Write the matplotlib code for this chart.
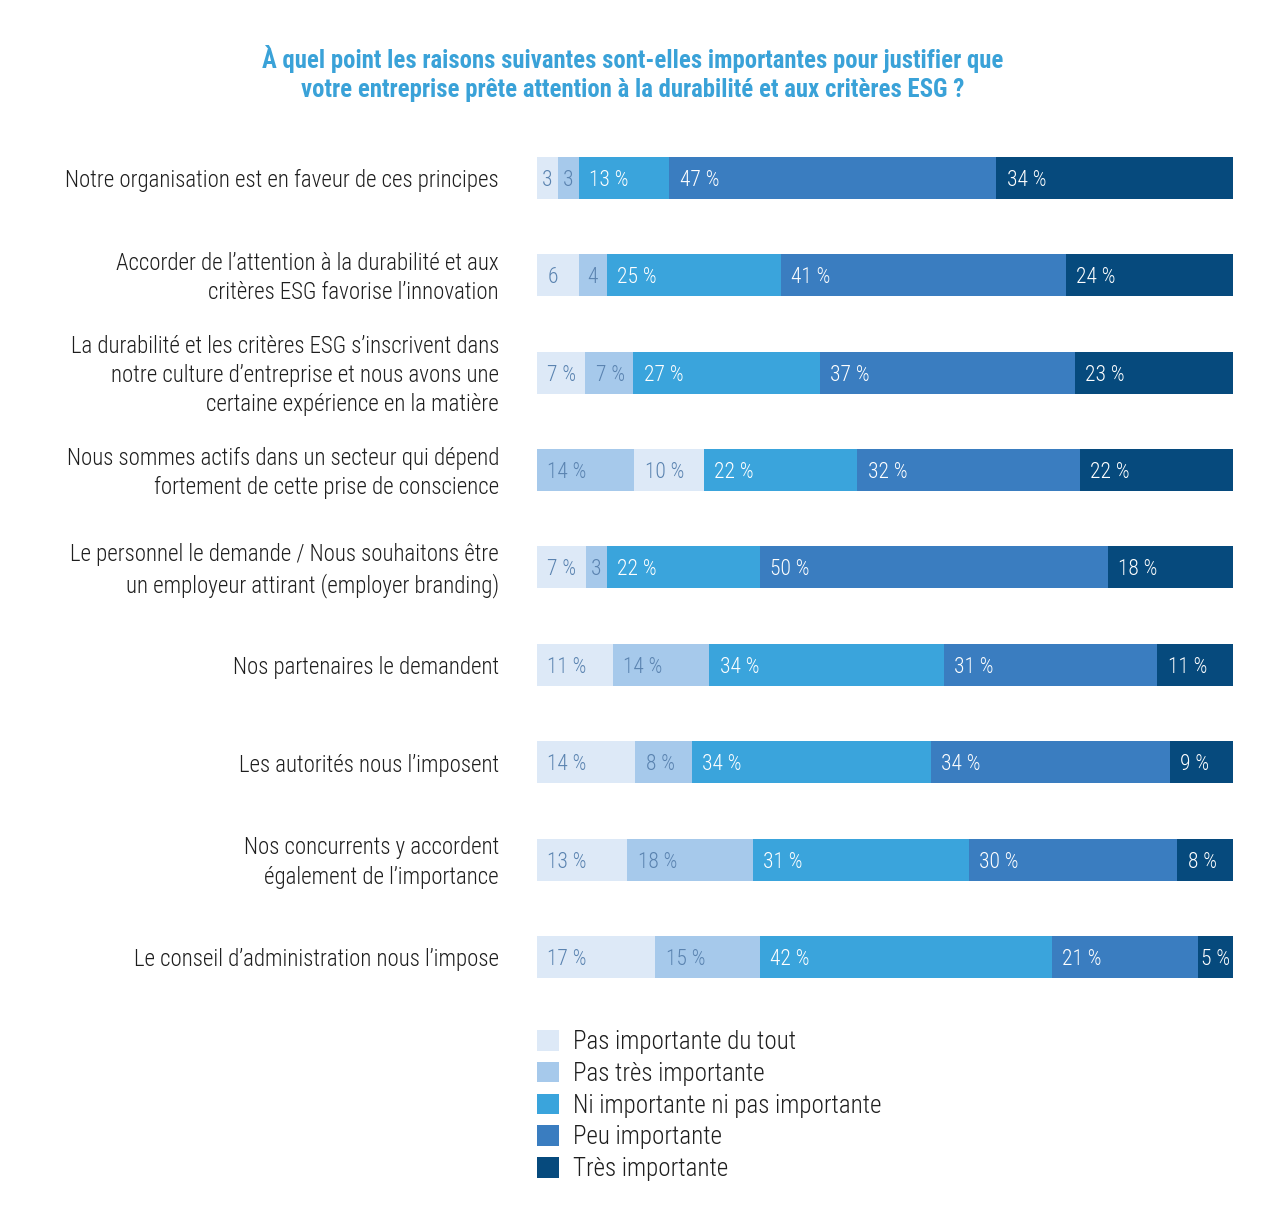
import matplotlib
matplotlib.use("Agg")
import matplotlib.pyplot as plt
from matplotlib.patches import Patch
from matplotlib import font_manager

avail = {f.name for f in font_manager.fontManager.ttflist}
fam = [f for f in ['Roboto Condensed', 'Liberation Sans Narrow', 'DejaVu Sans Condensed', 'Roboto']
       if f in avail] + ['DejaVu Sans']
plt.rcParams['font.family'] = fam

title = ("À quel point les raisons suivantes sont-elles importantes pour justifier que\n"
         "votre entreprise prête attention à la durabilité et aux critères ESG ?")

categories = [
    "Notre organisation est en faveur de ces principes",
    "Accorder de l\u2019attention à la durabilité et aux\ncritères ESG favorise l\u2019innovation",
    "La durabilité et les critères ESG s\u2019inscrivent dans\nnotre culture d\u2019entreprise et nous avons une\ncertaine expérience en la matière",
    "Nous sommes actifs dans un secteur qui dépend\nfortement de cette prise de conscience",
    "Le personnel le demande / Nous souhaitons être\nun employeur attirant (employer branding)",
    "Nos partenaires le demandent",
    "Les autorités nous l\u2019imposent",
    "Nos concurrents y accordent\négalement de l\u2019importance",
    "Le conseil d\u2019administration nous l\u2019impose",
]

series_names = ["Pas importante du tout", "Pas très importante",
                "Ni importante ni pas importante", "Peu importante", "Très importante"]
pas_du_tout = [3, 6, 7, 10, 7, 11, 14, 13, 17]
pas_tres = [3, 4, 7, 14, 3, 14, 8, 18, 15]
ni_ni = [13, 25, 27, 22, 22, 34, 34, 31, 42]
peu = [47, 41, 37, 32, 50, 31, 34, 30, 21]
tres = [34, 24, 23, 22, 18, 11, 9, 8, 5]
# row where the first two segments appear in swapped order in the source
swapped_rows = [3]

colors = ["#dde9f7", "#a6c9eb", "#3aa4dc", "#3a7dc0", "#064a7d"]
text_colors = ["#5a83b0", "#5a83b0", "white", "white", "white"]

fig = plt.figure(figsize=(12.73, 12.28), dpi=100)
W, H = 1273, 1228
ax = fig.add_axes([537 / W, 1 - 1005.7 / H, 696 / W, 876.6 / H])

series = [pas_du_tout, pas_tres, ni_ni, peu, tres]
n = len(categories)
bar_h = 42 / 97.4
for i in range(n):
    vals = [s[i] for s in series]
    total = sum(vals)
    order = [1, 0, 2, 3, 4] if i in swapped_rows else [0, 1, 2, 3, 4]
    left = 0.0
    for k in order:
        v = vals[k]
        w = v / total * 100
        ax.barh(i, w, left=left, height=bar_h, color=colors[k], edgecolor='none')
        lab = f"{v}" if (k < 2 and v < 7) else f"{v} %"
        if v <= 5:
            ax.text(left + w / 2, i, lab, ha='center', va='center_baseline',
                    fontsize=15.5, color=text_colors[k], fontweight='light')
        else:
            ax.text(left + 1.5, i, lab, ha='left', va='center_baseline',
                    fontsize=15.5, color=text_colors[k], fontweight='light')
        left += w

ax.set_xlim(0, 100)
ax.set_ylim(n - 0.5, -0.5)
ax.axis('off')

for i, c in enumerate(categories):
    ax.text(-5.45, i + 0.03, c, ha='right', va='center', fontsize=16.5, color='#1e1e1e',
            linespacing=1.34, fontweight='light')

fig.text(633 / W, 1 - 73.5 / H, title, ha='center', va='center', fontsize=17.8,
         fontweight='bold', color='#3aa2d8', linespacing=1.3)

handles = [Patch(facecolor=c, edgecolor='none') for c in colors]
fig.legend(handles, series_names, loc='upper left',
           bbox_to_anchor=(537 / W, 1 - 1030 / H), frameon=False,
           handlelength=0.88, handleheight=0.88,
           handletextpad=0.55, labelspacing=0.31, borderpad=0, borderaxespad=0,
           labelcolor='#1e1e1e', prop={'weight': 'light', 'size': 18})

fig.savefig("out.png", dpi=100, facecolor='white')
